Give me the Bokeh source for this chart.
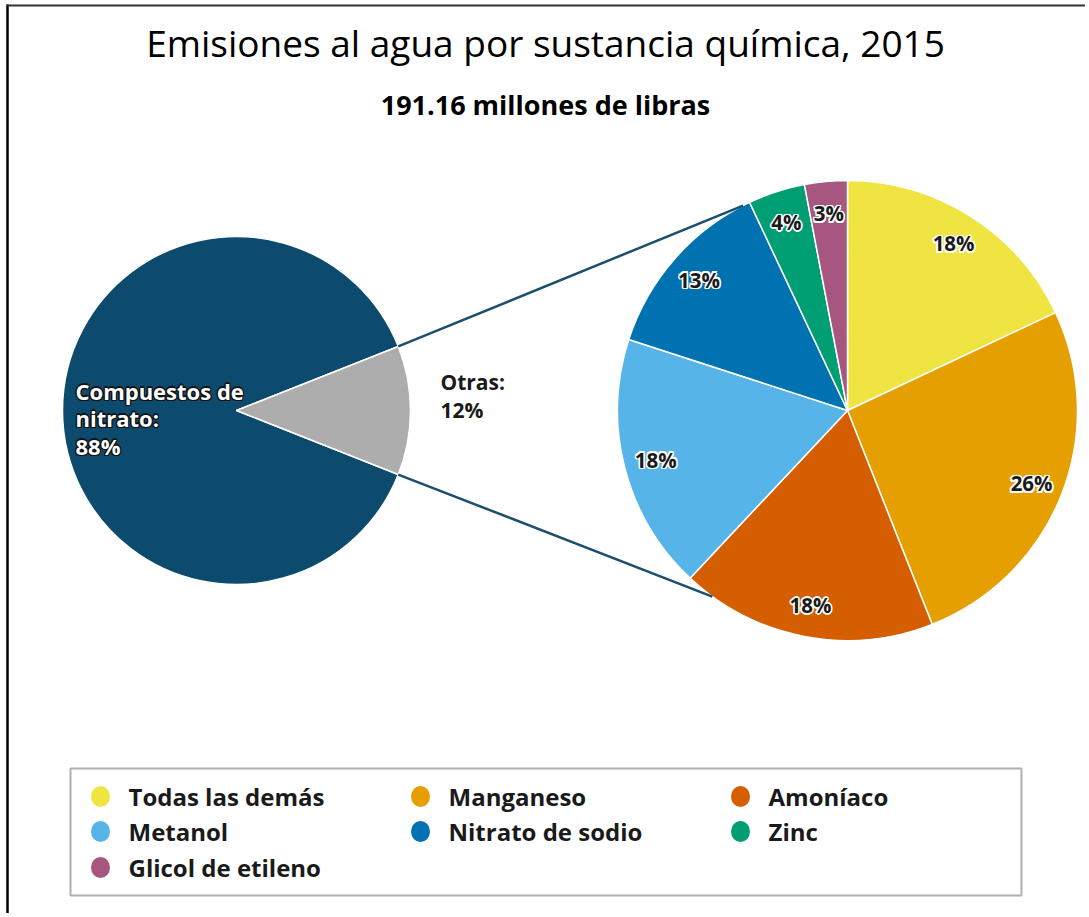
import math
from bokeh.plotting import figure
from bokeh.models import Range1d
from bokeh.embed import file_html
from bokeh.resources import INLINE
from bokeh.core.properties import value

title = "Emisiones al agua por sustancia química, 2015"
subtitle = "191.16 millones de libras"

outer_labels = ["Compuestos de nitrato", "Otras"]
outer_values = [88, 12]
outer_colors = ["#0c4a6e", "#adadad"]

inner_labels = ["Todas las demás", "Manganeso", "Amoníaco", "Metanol",
                "Nitrato de sodio", "Zinc", "Glicol de etileno"]
inner_values = [18, 26, 18, 18, 13, 4, 3]
inner_colors = ["#f0e442", "#e69f00", "#d55e00", "#56b4e9",
                "#0072b2", "#009e73", "#a6567f"]

W, H = 1085, 913
p = figure(width=W, height=H, x_range=Range1d(0, W), y_range=Range1d(-H, 0),
           output_backend="svg", toolbar_location=None, min_border=0)
p.axis.visible = False
p.grid.visible = False
p.outline_line_color = None
p.background_fill_color = "white"

SANS = "Open Sans"

def Y(y):
    return -y

# frame lines (top & left)
p.line([7, 7], [Y(4), Y(917)], line_color="black", line_width=2.5)
p.line([6, 1089], [Y(5), Y(5)], line_color="#333333", line_width=2)

# titles
p.text([545], [Y(42)], text=[title], text_align="center", text_baseline="middle",
       text_font=value(SANS), text_font_size="37px", text_color="black")
p.text([545], [Y(104)], text=[subtitle], text_align="center", text_baseline="middle",
       text_font=value(SANS), text_font_size="27px", text_color="black", text_font_style="bold")

def halo_text(xs, ys, texts, color, halo, size, font=SANS, style="bold", align="center", w=1.3):
    offs = [(-w, -w), (w, -w), (-w, w), (w, w), (0, w * 1.2), (0, -w * 1.2), (w * 1.2, 0), (-w * 1.2, 0)]
    for dx, dy in offs:
        p.text(xs, ys, text=texts, x_offset=dx, y_offset=dy, text_color=halo,
               text_font=value(font), text_font_size=size, text_font_style=style,
               text_align=align, text_baseline="middle")
    p.text(xs, ys, text=texts, text_color=color, text_font=value(font), text_font_size=size,
           text_font_style=style, text_align=align, text_baseline="middle")

# left pie
LCX, LCY, LR = 236, 410, 174
tot = sum(outer_values)
half = math.pi * outer_values[1] / tot
p.wedge(x=[LCX, LCX], y=[Y(LCY), Y(LCY)], radius=LR, radius_units="screen",
        start_angle=[half, -half], end_angle=[2 * math.pi - half, half],
        fill_color=outer_colors, line_color="white", line_width=1.5)

# right pie
RCX, RCY, RR = 847, 410, 230
tot2 = sum(inner_values)
starts, ends, lx, ly, lt = [], [], [], [], []
c = 0.0
for v in inner_values:
    c0, c1 = c / tot2, (c + v) / tot2
    starts.append(math.pi / 2 - 2 * math.pi * c1)
    ends.append(math.pi / 2 - 2 * math.pi * c0)
    mid = math.pi / 2 - 2 * math.pi * (c0 + c1) / 2
    lx.append(RCX + 198 * math.cos(mid))
    ly.append(Y(RCY) + 198 * math.sin(mid))
    lt.append(f"{v}%")
    c += v
p.wedge(x=[RCX] * len(inner_values), y=[Y(RCY)] * len(inner_values), radius=RR,
        radius_units="screen", start_angle=starts, end_angle=ends,
        fill_color=inner_colors, line_color="white", line_width=1.5)

# connector lines
ex = LCX + LR * math.cos(half)
ey = LR * math.sin(half)
a_top = math.radians(90 + 27)
a_bot = math.radians(90 + 144)
p.line([ex, RCX + RR * math.cos(a_top)], [Y(LCY) + ey, Y(RCY) + RR * math.sin(a_top)],
       line_color="#1c4f6e", line_width=2.5)
p.line([ex, RCX + RR * math.cos(a_bot)], [Y(LCY) - ey, Y(RCY) + RR * math.sin(a_bot)],
       line_color="#1c4f6e", line_width=2.5)

# right pie labels
halo_text(lx, ly, lt, "#1a1a1a", "white", "20.5px")

# left labels
halo_text([75, 75, 75], [Y(390), Y(417), Y(445)],
          ["Compuestos de", "nitrato:", f"{outer_values[0]}%"],
          "white", "#111111", "22px", align="left", w=1.0)
p.text([440, 440], [Y(381), Y(409)], text=[outer_labels[1] + ":", f"{outer_values[1]}%"],
       text_color="#1a1a1a", text_font=value(SANS), text_font_size="21px",
       text_font_style="bold", text_align="left", text_baseline="middle")

# legend
p.quad(left=[70], right=[1021], top=[Y(768)], bottom=[Y(895)], fill_color="white",
       line_color="#b0b0b0", line_width=2)
colx = [100, 420, 740]
rowy = [796, 831, 867]
mx, my = [], []
for i in range(len(inner_labels)):
    mx.append(colx[i % 3])
    my.append(Y(rowy[i // 3]))
p.ellipse(x=mx, y=my, width=19, height=21, width_units="screen", height_units="screen",
          fill_color=inner_colors, line_color=None)
p.text([x + 28 for x in mx], my, text=inner_labels, text_color="#1a1a1a",
       text_font=value(SANS), text_font_size="24px", text_font_style="bold",
       text_align="left", text_baseline="middle")

open("out.html", "w").write(file_html(p, INLINE))
